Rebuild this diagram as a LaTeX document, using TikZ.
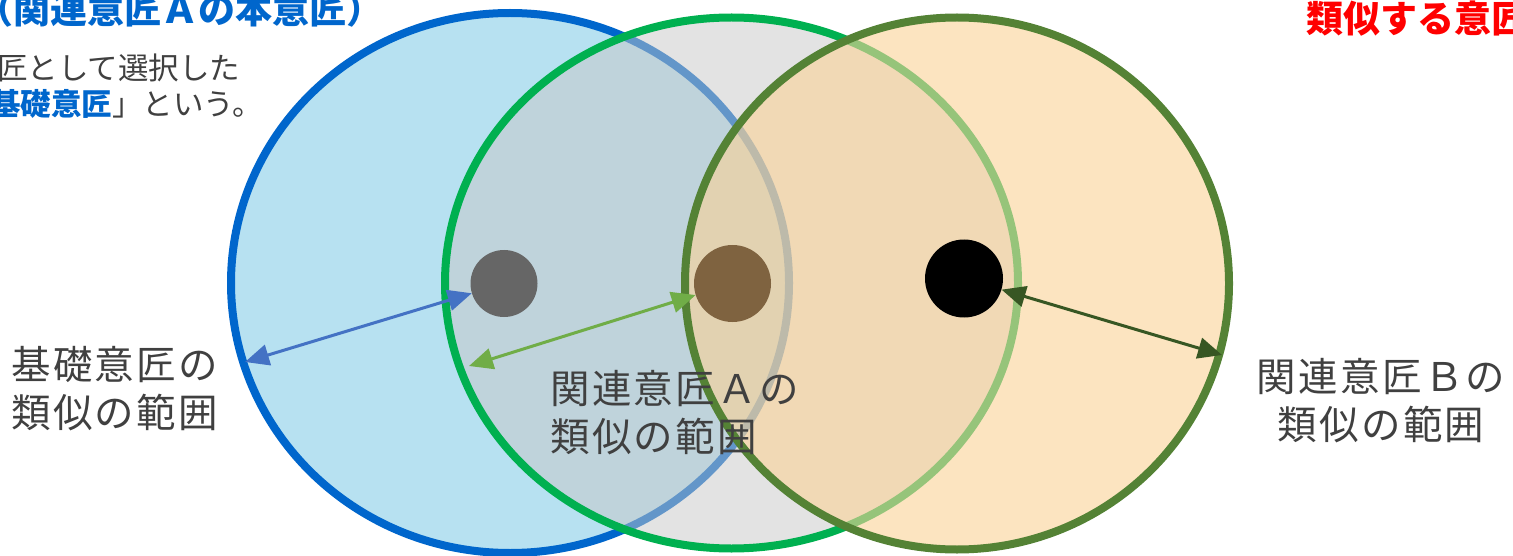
\documentclass[tikz,border=0pt]{standalone}
\usepackage{fontspec}
\setmainfont{Noto Sans CJK JP}
\usetikzlibrary{arrows.meta}

\definecolor{kisoline}{HTML}{0066CC}
\definecolor{kisofill}{HTML}{B7E1F1}
\definecolor{aline}{HTML}{00B050}
\definecolor{afill}{HTML}{C7C7C7}
\definecolor{bline}{HTML}{548235}
\definecolor{bfill}{HTML}{FAD296}
\definecolor{kisodot}{HTML}{666666}
\definecolor{adot}{HTML}{7F6340}
\definecolor{kisoarrow}{HTML}{4472C4}
\definecolor{aarrow}{HTML}{70AD47}
\definecolor{barrow}{HTML}{375623}
\definecolor{textgray}{HTML}{404040}

\tikzset{
	ringline/.style={line width=8pt},
	designdot/.style={circle, inner sep=0pt, minimum size=#1},
	spanarrow/.style={line width=3pt, {Triangle[length=24pt,width=21pt]}-{Triangle[length=24pt,width=21pt]}},
	rangetext/.style={inner sep=0pt, text=textgray, font=\fontsize{39.5}{48.5}\selectfont\addfontfeature{LetterSpace=6}},
	headtext/.style={inner sep=0pt, anchor=base west, font=\bfseries\fontsize{37}{44}\selectfont},
	notetext/.style={inner sep=0pt, anchor=base west, text=textgray, font=\fontsize{30.5}{36}\selectfont}
}

\begin{document}
\begin{tikzpicture}[x=1pt, y=-1pt]
	\useasboundingbox (0,0) rectangle (1513,556);
	\clip (0,0) rectangle (1513,556);

	\draw[ringline, draw=kisoline, fill=kisofill] (510,283) ellipse [x radius=279pt, y radius=270pt];
	\draw[ringline, draw=aline, fill=afill, fill opacity=0.5] (731.5,283) ellipse [x radius=286.5pt, y radius=265.5pt];
	\draw[ringline, draw=bline, fill=bfill, fill opacity=0.6] (957,283.5) ellipse [x radius=272pt, y radius=266pt];

	\node[designdot=67pt, fill=kisodot] (kiso) at (504,283.5) {};
	\node[designdot=77pt, fill=adot] (relA) at (732.5,283.5) {};
	\node[designdot=78pt, fill=black] (relB) at (964,278.5) {};

	\coordinate (kisoEdge) at (245,362);
	\coordinate (relAEdge) at (469,366);
	\coordinate (relBEdge) at (1222,355);
	\draw[spanarrow, kisoarrow] (kiso) -- (kisoEdge);
	\draw[spanarrow, aarrow] (relA) -- (relAEdge);
	\draw[spanarrow, barrow] (relB) -- (relBEdge);

	\node[rangetext, anchor=north west, align=left] (kisoText) at (11,346) {基礎意匠の\\類似の範囲};
	\node[rangetext, anchor=north west, align=left] (relAText) at (550,370) {関連意匠Ａの\\類似の範囲};
	\node[rangetext, anchor=north, align=center] (relBText) at (1381,358) {関連意匠Ｂの\\類似の範囲};

	\node[headtext, text=kisoline] (title) at (-24,23.5) {（関連意匠Ａの本意匠）};
	\node[notetext] (note1) at (-3,80) {匠として選択した};
	\node[notetext] (note2) at (-10,116) {{\color{kisoline}\bfseries 基礎意匠}」という。};
	\node[headtext, text=red] (similar) at (1306,32.5) {類似する意匠};
\end{tikzpicture}
\end{document}
